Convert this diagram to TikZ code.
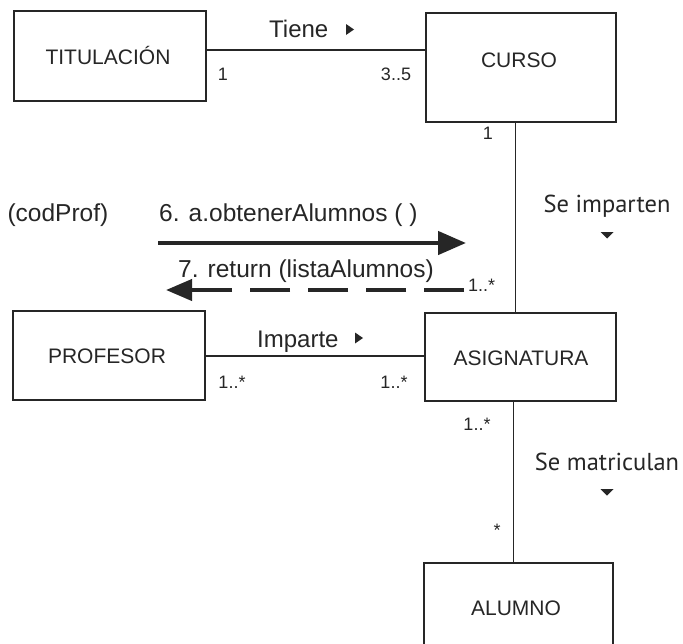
\documentclass[tikz,border=0pt]{standalone}
\usepackage{fontspec}
\setmainfont{Liberation Sans}
\newfontfamily\ptsans{PT Sans}
\usetikzlibrary{arrows.meta}
\definecolor{ink}{HTML}{262626}
\begin{document}
\begin{tikzpicture}[x=1pt,y=-1pt,
  box/.style={draw=ink, line width=1.5pt, anchor=north west, inner sep=0pt},
  boxlabel/.style={text=ink, anchor=base, inner sep=0pt, font=\fontsize{21}{21}\selectfont},
  mult/.style={text=ink, anchor=base, inner sep=0pt, font=\fontsize{18}{18}\selectfont},
  assoc/.style={text=ink, anchor=base west, inner sep=0pt, font=\fontsize{24}{24}\selectfont},
  msglabel/.style={text=ink, anchor=base west, inner sep=0pt, font=\fontsize{24.5}{24.5}\selectfont},
  rolelabel/.style={text=ink, anchor=base, inner sep=0pt, font=\ptsans\fontsize{24.5}{24.5}\selectfont},
  conn/.style={draw=ink, line width=1.2pt},
  callarrow/.style={draw=ink, line width=4.5pt, -{Triangle[length=28pt,width=23pt]}},
  retarrow/.style={draw=ink, line width=4pt, dash pattern=on 40pt off 18pt, -{Triangle[length=26pt,width=21pt]}},
  marker/.style={fill=ink, draw=none}
]
\useasboundingbox (0,0) rectangle (683,643);
\clip (0,0) rectangle (683,643);
\fill[white] (0,0) rectangle (683,643);

% class boxes
\node[box, minimum width=192pt, minimum height=90pt]  (titu)   at (13,10)  {};
\node[box, minimum width=190pt, minimum height=109pt] (curso)  at (425,12) {};
\node[box, minimum width=192pt, minimum height=89pt]  (prof)   at (12,310) {};
\node[box, minimum width=191pt, minimum height=88pt]  (asig)   at (424,312) {};
\node[box, minimum width=189pt, minimum height=100pt] (alumno) at (423,562) {};

% class names
\node[boxlabel] (titut)   at (108,64)  {TITULACIÓN};
\node[boxlabel] (cursot)  at (519,67)  {CURSO};
\node[boxlabel] (proft)   at (107,363) {PROFESOR};
\node[boxlabel] (asigt)   at (521,365) {ASIGNATURA};
\node[boxlabel] (alumnot) at (516,615) {ALUMNO};

% connectors
\coordinate (tieneY) at (0,50);
\coordinate (impY)   at (0,356);
\coordinate (v1)     at (515.5,0);
\coordinate (v2)     at (513.5,0);
\draw[conn] (titu.east |- tieneY) -- (curso.west |- tieneY);
\draw[conn] (prof.east |- impY) -- (asig.west |- impY);
\draw[conn] (curso.south -| v1) -- (asig.north -| v1);
\draw[conn] (asig.south -| v2) -- (alumno.north -| v2);

% association names and direction markers
\node[assoc] (tiene) at (269,37) {Tiene};
\fill[marker] (346,24) -- (354,29.5) -- (346,35) -- cycle;
\node[assoc] (imparte) at (257,347) {Imparte};
\fill[marker] (355,332.5) -- (363,338) -- (355,343.5) -- cycle;
\node[rolelabel] (seimp) at (607,212) {Se imparten};
\fill[marker] (600.5,232) -- (613.5,232) -- (607,238.5) -- cycle;
\node[rolelabel] (semat) at (607,470) {Se matriculan};
\fill[marker] (600.5,489) -- (613.5,489) -- (607,495.5) -- cycle;

% multiplicities
\node[mult] (m1)  at (223,80)  {1};
\node[mult] (m2)  at (396,80)  {3..5};
\node[mult] (m3)  at (488,139) {1};
\node[mult, anchor=base west] (m4) at (468,291) {1..*};
\node[mult] (m5)  at (232,388) {1..*};
\node[mult] (m6)  at (394,388) {1..*};
\node[mult] (m7)  at (477,430) {1..*};
\node[mult] (m8)  at (497,536) {*};

% messages
\node[msglabel, anchor=base east] (prevmsg) at (108.5,221) {(codProf)};
\node[msglabel] (msg6) at (159,221) {6. a.obtenerAlumnos ( )};
\node[msglabel] (msg7) at (178,277) {7. return (listaAlumnos)};
\coordinate (c6s) at (158,243);
\coordinate (c6e) at (466,243);
\coordinate (c7s) at (464,290);
\coordinate (c7e) at (166,290);
\draw[callarrow] (c6s) -- (c6e);
\draw[retarrow] (c7s) -- (c7e);
\end{tikzpicture}
\end{document}
